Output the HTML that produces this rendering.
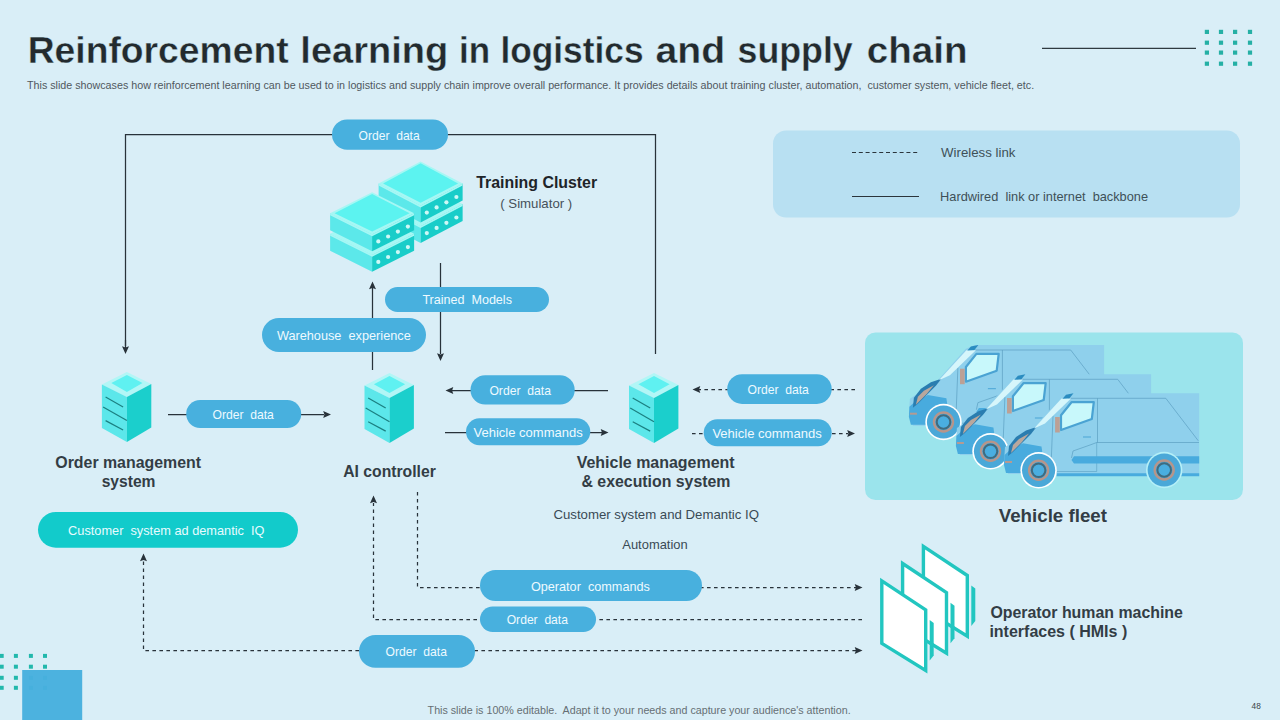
<!DOCTYPE html>
<html><head><meta charset="utf-8">
<style>
html,body{margin:0;padding:0;width:1280px;height:720px;overflow:hidden;background:#d9eef7;}
svg{display:block;font-family:"Liberation Sans",sans-serif;}
text{white-space:pre;}
</style></head>
<body>
<svg width="1280" height="720" viewBox="0 0 1280 720">
<defs>
  <marker id="ah" viewBox="0 0 8 7" refX="8" refY="3.5" markerWidth="8" markerHeight="7" markerUnits="userSpaceOnUse" orient="auto">
    <path d="M0,0 L8,3.5 L0,7 L1,3.5 z" fill="#2b353c"/>
  </marker>
  <g id="srv">
    <polygon points="25,0 49.4,12 25,25 0,12.5" fill="#b2f6f6"/>
    <polygon points="25,3.1 40.6,11.2 25,20 9.4,11.2" fill="#5ff1f1"/>
    <polygon points="0,12.5 25,25 25,70 0,56" fill="#5ce7ea"/>
    <polygon points="25,25 49.4,12 49.4,55.6 25,70" fill="#1bcfcc"/>
    <line x1="3.7" y1="25" x2="21.2" y2="35" stroke="#1b7f80" stroke-width="1.2"/>
    <line x1="1.2" y1="35" x2="25" y2="48.7" stroke="#1b7f80" stroke-width="1.2"/>
    <line x1="3.7" y1="48.7" x2="21.2" y2="58.1" stroke="#1b7f80" stroke-width="1.2"/>
  </g>
</defs>

<line x1="1042" y1="48.4" x2="1196" y2="48.4" stroke="#2f3a40" stroke-width="1.3"/>
<g fill="#25b0a5"><rect x="1204.8" y="29.8" width="4.2" height="4.2"/><rect x="1218.9" y="29.8" width="4.2" height="4.2"/><rect x="1233.0" y="29.8" width="4.2" height="4.2"/><rect x="1247.9" y="29.8" width="4.2" height="4.2"/><rect x="1204.8" y="40.6" width="4.2" height="4.2"/><rect x="1218.9" y="40.6" width="4.2" height="4.2"/><rect x="1233.0" y="40.6" width="4.2" height="4.2"/><rect x="1247.9" y="40.6" width="4.2" height="4.2"/><rect x="1204.8" y="50.5" width="4.2" height="4.2"/><rect x="1218.9" y="50.5" width="4.2" height="4.2"/><rect x="1233.0" y="50.5" width="4.2" height="4.2"/><rect x="1247.9" y="50.5" width="4.2" height="4.2"/><rect x="1204.8" y="61.6" width="4.2" height="4.2"/><rect x="1218.9" y="61.6" width="4.2" height="4.2"/><rect x="1233.0" y="61.6" width="4.2" height="4.2"/><rect x="1247.9" y="61.6" width="4.2" height="4.2"/></g>
<rect x="773" y="130.5" width="467" height="87" rx="13" fill="#b8e0f2"/>
<line x1="852" y1="152.5" x2="919" y2="152.5" stroke="#2b353c" stroke-width="1.1" stroke-dasharray="4,2.8"/>
<line x1="852" y1="196.5" x2="919" y2="196.5" stroke="#2b353c" stroke-width="1.1"/>
<polyline points="125.5,346.0 125.5,134.5 655.5,134.5 655.5,354.0" fill="none" stroke="#28323a" stroke-width="1.25"/>
<polyline points="440.5,263.0 440.5,354.0" fill="none" stroke="#28323a" stroke-width="1.25"/>
<polyline points="372.5,370.0 372.5,288.0" fill="none" stroke="#28323a" stroke-width="1.25"/>
<polyline points="168.0,414.5 324.0,414.5" fill="none" stroke="#28323a" stroke-width="1.25"/>
<polyline points="608.0,390.5 452.0,390.5" fill="none" stroke="#28323a" stroke-width="1.25"/>
<polyline points="445.0,432.5 602.0,432.5" fill="none" stroke="#28323a" stroke-width="1.25"/>
<polyline points="125.5,340.0 125.5,348.0" fill="none" stroke="#28323a" stroke-width="1.25"/>
<polyline points="855.0,389.5 699.0,389.5" fill="none" stroke="#28323a" stroke-width="1.25" stroke-dasharray="3.6,3.4"/>
<polyline points="692.0,433.5 848.0,433.5" fill="none" stroke="#28323a" stroke-width="1.25" stroke-dasharray="3.6,3.4"/>
<polyline points="417.5,492.0 417.5,587.5 856.0,587.5" fill="none" stroke="#28323a" stroke-width="1.25" stroke-dasharray="3.6,3.4"/>
<polyline points="862.0,619.5 373.5,619.5 373.5,503.0" fill="none" stroke="#28323a" stroke-width="1.25" stroke-dasharray="3.6,3.4"/>
<polyline points="856.0,650.5 143.5,650.5 143.5,561.0" fill="none" stroke="#28323a" stroke-width="1.25" stroke-dasharray="3.6,3.4"/>
<polygon points="125.5,354.0 122.0,346.2 125.5,347.4 129.0,346.2" fill="#28323a"/>
<polygon points="440.5,361.0 437.0,353.2 440.5,354.4 444.0,353.2" fill="#28323a"/>
<polygon points="372.5,281.5 376.0,289.3 372.5,288.1 369.0,289.3" fill="#28323a"/>
<polygon points="331.0,414.5 323.2,418.0 324.4,414.5 323.2,411.0" fill="#28323a"/>
<polygon points="445.5,390.5 453.3,387.0 452.1,390.5 453.3,394.0" fill="#28323a"/>
<polygon points="608.5,432.5 600.7,436.0 601.9,432.5 600.7,429.0" fill="#28323a"/>
<polygon points="692.5,389.5 700.3,386.0 699.1,389.5 700.3,393.0" fill="#28323a"/>
<polygon points="855.0,433.5 847.2,437.0 848.4,433.5 847.2,430.0" fill="#28323a"/>
<polygon points="862.5,587.5 854.7,591.0 855.9,587.5 854.7,584.0" fill="#28323a"/>
<polygon points="373.5,495.5 377.0,503.3 373.5,502.1 370.0,503.3" fill="#28323a"/>
<polygon points="862.5,650.5 854.7,654.0 855.9,650.5 854.7,647.0" fill="#28323a"/>
<polygon points="143.5,553.5 147.0,561.3 143.5,560.1 140.0,561.3" fill="#28323a"/>
<g fill="#48b0de">
  <rect x="332" y="119.4" width="116" height="30.3" rx="15.15"/>
  <rect x="385" y="287" width="164" height="25" rx="12.5"/>
  <rect x="262" y="318" width="164" height="34" rx="17"/>
  <rect x="186.2" y="400" width="115" height="28" rx="14"/>
  <rect x="470.5" y="375.2" width="104.2" height="29.4" rx="14.7"/>
  <rect x="466" y="418.2" width="124.3" height="27" rx="13.5"/>
  <rect x="727.2" y="374.2" width="104.5" height="29.7" rx="14.85"/>
  <rect x="703.7" y="419.2" width="128" height="27.1" rx="13.55"/>
  <rect x="480" y="570" width="222" height="31" rx="15.5"/>
  <rect x="480" y="606.6" width="116" height="25.4" rx="12.7"/>
  <rect x="359" y="635" width="116" height="32.8" rx="16.4"/>
</g>
<rect x="38" y="512" width="260" height="35.7" rx="17.85" fill="#12cbcb"/>
<g id="cluster"><polygon points="378.6,204.0 420.6,226.0 420.6,243.0 378.6,221.0" fill="#5ce8ea"/>
<polygon points="420.6,226.0 462.6,204.0 462.6,221.0 420.6,243.0" fill="#19cdc9"/>
<polygon points="420.6,182.0 462.6,204.0 420.6,226.0 378.6,204.0" fill="#a6f7f4"/>
<polygon points="378.6,204.0 420.6,226.0 462.6,204.0 462.6,206.0 420.6,228.0 378.6,206.0" fill="#a6f7f4"/>
<circle cx="426.8" cy="233.1" r="2.1" fill="#cdf8f6"/>
<circle cx="436.6" cy="227.9" r="2.1" fill="#cdf8f6"/>
<circle cx="446.4" cy="222.8" r="2.1" fill="#cdf8f6"/>
<circle cx="456.4" cy="217.5" r="2.1" fill="#cdf8f6"/>
<polygon points="378.6,183.5 420.6,205.5 420.6,222.5 378.6,200.5" fill="#5ce8ea"/>
<polygon points="420.6,205.5 462.6,183.5 462.6,200.5 420.6,222.5" fill="#19cdc9"/>
<polygon points="420.6,161.5 462.6,183.5 420.6,205.5 378.6,183.5" fill="#a6f7f4"/>
<polygon points="420.6,163.2 458.1,183.5 420.6,202.7 383.1,183.5" fill="#5cf3f0"/>
<polygon points="378.6,183.5 420.6,205.5 462.6,183.5 462.6,185.5 420.6,207.5 378.6,185.5" fill="#a6f7f4"/>
<circle cx="426.8" cy="212.6" r="2.1" fill="#cdf8f6"/>
<circle cx="436.6" cy="207.4" r="2.1" fill="#cdf8f6"/>
<circle cx="446.4" cy="202.3" r="2.1" fill="#cdf8f6"/>
<circle cx="456.4" cy="197.0" r="2.1" fill="#cdf8f6"/>
<polygon points="330.1,233.7 372.1,254.7 372.1,271.7 330.1,250.7" fill="#5ce8ea"/>
<polygon points="372.1,254.7 414.1,233.7 414.1,250.7 372.1,271.7" fill="#19cdc9"/>
<polygon points="372.1,212.7 414.1,233.7 372.1,254.7 330.1,233.7" fill="#a6f7f4"/>
<polygon points="330.1,233.7 372.1,254.7 414.1,233.7 414.1,235.7 372.1,256.7 330.1,235.7" fill="#a6f7f4"/>
<circle cx="378.3" cy="261.9" r="2.1" fill="#cdf8f6"/>
<circle cx="388.1" cy="257.0" r="2.1" fill="#cdf8f6"/>
<circle cx="397.9" cy="252.1" r="2.1" fill="#cdf8f6"/>
<circle cx="407.9" cy="247.1" r="2.1" fill="#cdf8f6"/>
<polygon points="330.1,213.2 372.1,234.2 372.1,251.2 330.1,230.2" fill="#5ce8ea"/>
<polygon points="372.1,234.2 414.1,213.2 414.1,230.2 372.1,251.2" fill="#19cdc9"/>
<polygon points="372.1,192.2 414.1,213.2 372.1,234.2 330.1,213.2" fill="#a6f7f4"/>
<polygon points="372.1,193.9 409.6,213.2 372.1,231.4 334.6,213.2" fill="#5cf3f0"/>
<polygon points="330.1,213.2 372.1,234.2 414.1,213.2 414.1,215.2 372.1,236.2 330.1,215.2" fill="#a6f7f4"/>
<circle cx="378.3" cy="241.4" r="2.1" fill="#cdf8f6"/>
<circle cx="388.1" cy="236.5" r="2.1" fill="#cdf8f6"/>
<circle cx="397.9" cy="231.6" r="2.1" fill="#cdf8f6"/>
<circle cx="407.9" cy="226.6" r="2.1" fill="#cdf8f6"/></g>
<use href="#srv" x="101.9" y="371.9"/><use href="#srv" x="364.5" y="373"/><use href="#srv" x="629" y="373"/>
<rect x="865" y="332.5" width="378" height="167.5" rx="10.5" fill="#9be4ec"/>
<g id="vans"><polygon points="965.9,348.7 974.9,345.0 1104.1,345.0 1104.1,427.7 912.9,425.7 908.9,413.7 909.9,398.7 937.9,380.2" fill="#8fd0ec"/>
<polyline points="972.9,350.0 1070.7,350.0 1103.2,392.5" fill="none" stroke="#5b9fc2" stroke-width="0.7"/>
<polyline points="1001.6,394.2 1103.9,394.2" fill="none" stroke="#5b9fc2" stroke-width="0.7"/>
<polyline points="957.9,367.7 955.7,423.4" fill="none" stroke="#5b9fc2" stroke-width="0.7"/>
<polyline points="1002.4,350.0 1002.4,394.2" fill="none" stroke="#5b9fc2" stroke-width="0.7"/>
<polyline points="976.4,409.7 977.9,402.7 994.9,396.7 1001.6,394.2" fill="none" stroke="#5b9fc2" stroke-width="0.7"/>
<polyline points="961.9,423.2 1001.6,423.2 1001.6,394.2" fill="none" stroke="#5b9fc2" stroke-width="0.6"/>
<polygon points="978.9,407.9 1104.1,407.9 1104.1,415.3 978.9,415.3 976.4,411.7" fill="#48abde"/>
<polygon points="961.6,425.0 1104.1,425.0 1104.1,427.9 961.6,427.9" fill="#48abde"/>
<polygon points="909.4,406.7 914.9,401.7 927.9,395.0 946.4,398.2 947.2,403.7 934.9,424.7 910.9,424.7 908.9,416.7" fill="#48abde"/>
<polygon points="909.9,412.7 916.9,412.7 916.9,414.7 909.9,414.7" fill="#b59a92"/>
<polygon points="912.9,407.7 913.9,397.7 920.9,388.7 930.9,382.2 941.4,378.7 935.9,385.7 926.9,394.7 917.9,403.7" fill="#2a7db0"/>
<polygon points="915.9,404.7 917.9,396.7 923.9,390.7 933.9,385.2 926.9,393.7 919.9,400.7" fill="#b9a79d"/>
<polygon points="938.9,380.2 949.9,375.2 975.9,350.2 966.4,350.2" fill="#d6f6fb"/>
<polygon points="967.4,350.5 970.9,346.5 978.4,345.0 974.4,350.0" fill="#2b8cc0"/>
<polygon points="965.9,367.0 976.4,353.9 998.7,353.9 996.7,370.7 965.9,381.7" fill="#c8f8fb" stroke="#4aa3d3" stroke-width="2.2" stroke-linejoin="round"/>
<polygon points="960.0,368.7 964.7,368.7 964.7,384.2 960.0,384.2" fill="#bca095"/>
<polyline points="987.9,388.7 995.9,388.7" stroke="#4aa5d5" stroke-width="1"/>
<circle cx="943.5" cy="422.0" r="18.2" fill="#ffffff"/>
<circle cx="943.5" cy="422.0" r="16.6" fill="#4aa8d8"/>
<circle cx="943.5" cy="422.0" r="9.5" fill="none" stroke="#b7958a" stroke-width="2.4"/>
<circle cx="943.5" cy="422.0" r="6.8" fill="none" stroke="#3f6b7f" stroke-width="2"/>
<circle cx="943.5" cy="422.0" r="5.3" fill="#4aaee0"/>
<circle cx="1069.1" cy="421.7" r="18.2" fill="#b5f0f8"/>
<circle cx="1069.1" cy="421.7" r="16.6" fill="#4aa8d8"/>
<circle cx="1069.1" cy="421.7" r="9.5" fill="none" stroke="#b7958a" stroke-width="2.4"/>
<circle cx="1069.1" cy="421.7" r="6.8" fill="none" stroke="#3f6b7f" stroke-width="2"/>
<circle cx="1069.1" cy="421.7" r="5.3" fill="#4aaee0"/>
<polygon points="1012.9,378.0 1021.9,374.3 1151.1,374.3 1151.1,457.0 959.9,455.0 955.9,443.0 956.9,428.0 984.9,409.5" fill="#8fd0ec"/>
<polyline points="1019.9,379.3 1117.7,379.3 1150.2,421.8" fill="none" stroke="#5b9fc2" stroke-width="0.7"/>
<polyline points="1048.6,423.5 1150.9,423.5" fill="none" stroke="#5b9fc2" stroke-width="0.7"/>
<polyline points="1004.9,397.0 1002.7,452.7" fill="none" stroke="#5b9fc2" stroke-width="0.7"/>
<polyline points="1049.4,379.3 1049.4,423.5" fill="none" stroke="#5b9fc2" stroke-width="0.7"/>
<polyline points="1023.4,439.0 1024.9,432.0 1041.9,426.0 1048.6,423.5" fill="none" stroke="#5b9fc2" stroke-width="0.7"/>
<polyline points="1008.9,452.5 1048.6,452.5 1048.6,423.5" fill="none" stroke="#5b9fc2" stroke-width="0.6"/>
<polygon points="1025.9,437.2 1151.1,437.2 1151.1,444.6 1025.9,444.6 1023.4,441.0" fill="#48abde"/>
<polygon points="1008.6,454.3 1151.1,454.3 1151.1,457.2 1008.6,457.2" fill="#48abde"/>
<polygon points="956.4,436.0 961.9,431.0 974.9,424.3 993.4,427.5 994.2,433.0 981.9,454.0 957.9,454.0 955.9,446.0" fill="#48abde"/>
<polygon points="956.9,442.0 963.9,442.0 963.9,444.0 956.9,444.0" fill="#b59a92"/>
<polygon points="959.9,437.0 960.9,427.0 967.9,418.0 977.9,411.5 988.4,408.0 982.9,415.0 973.9,424.0 964.9,433.0" fill="#2a7db0"/>
<polygon points="962.9,434.0 964.9,426.0 970.9,420.0 980.9,414.5 973.9,423.0 966.9,430.0" fill="#b9a79d"/>
<polygon points="985.9,409.5 996.9,404.5 1022.9,379.5 1013.4,379.5" fill="#d6f6fb"/>
<polygon points="1014.4,379.8 1017.9,375.8 1025.4,374.3 1021.4,379.3" fill="#2b8cc0"/>
<polygon points="1012.9,396.3 1023.4,383.2 1045.7,383.2 1043.7,400.0 1012.9,411.0" fill="#c8f8fb" stroke="#4aa3d3" stroke-width="2.2" stroke-linejoin="round"/>
<polygon points="1007.0,398.0 1011.7,398.0 1011.7,413.5 1007.0,413.5" fill="#bca095"/>
<polyline points="1034.9,418.0 1042.9,418.0" stroke="#4aa5d5" stroke-width="1"/>
<circle cx="990.5" cy="451.3" r="18.2" fill="#ffffff"/>
<circle cx="990.5" cy="451.3" r="16.6" fill="#4aa8d8"/>
<circle cx="990.5" cy="451.3" r="9.5" fill="none" stroke="#b7958a" stroke-width="2.4"/>
<circle cx="990.5" cy="451.3" r="6.8" fill="none" stroke="#3f6b7f" stroke-width="2"/>
<circle cx="990.5" cy="451.3" r="5.3" fill="#4aaee0"/>
<circle cx="1116.1" cy="451.0" r="18.2" fill="#b5f0f8"/>
<circle cx="1116.1" cy="451.0" r="16.6" fill="#4aa8d8"/>
<circle cx="1116.1" cy="451.0" r="9.5" fill="none" stroke="#b7958a" stroke-width="2.4"/>
<circle cx="1116.1" cy="451.0" r="6.8" fill="none" stroke="#3f6b7f" stroke-width="2"/>
<circle cx="1116.1" cy="451.0" r="5.3" fill="#4aaee0"/>
<polygon points="1061.0,397.0 1070.0,393.3 1199.2,393.3 1199.2,476.0 1008.0,474.0 1004.0,462.0 1005.0,447.0 1033.0,428.5" fill="#8fd0ec"/>
<polyline points="1068.0,398.3 1165.8,398.3 1198.3,440.8" fill="none" stroke="#5b9fc2" stroke-width="0.7"/>
<polyline points="1096.7,442.5 1199.0,442.5" fill="none" stroke="#5b9fc2" stroke-width="0.7"/>
<polyline points="1053.0,416.0 1050.8,471.7" fill="none" stroke="#5b9fc2" stroke-width="0.7"/>
<polyline points="1097.5,398.3 1097.5,442.5" fill="none" stroke="#5b9fc2" stroke-width="0.7"/>
<polyline points="1071.5,458.0 1073.0,451.0 1090.0,445.0 1096.7,442.5" fill="none" stroke="#5b9fc2" stroke-width="0.7"/>
<polyline points="1057.0,471.5 1096.7,471.5 1096.7,442.5" fill="none" stroke="#5b9fc2" stroke-width="0.6"/>
<polygon points="1074.0,456.2 1199.2,456.2 1199.2,463.6 1074.0,463.6 1071.5,460.0" fill="#48abde"/>
<polygon points="1056.7,473.3 1199.2,473.3 1199.2,476.2 1056.7,476.2" fill="#48abde"/>
<polygon points="1004.5,455.0 1010.0,450.0 1023.0,443.3 1041.5,446.5 1042.3,452.0 1030.0,473.0 1006.0,473.0 1004.0,465.0" fill="#48abde"/>
<polygon points="1005.0,461.0 1012.0,461.0 1012.0,463.0 1005.0,463.0" fill="#b59a92"/>
<polygon points="1008.0,456.0 1009.0,446.0 1016.0,437.0 1026.0,430.5 1036.5,427.0 1031.0,434.0 1022.0,443.0 1013.0,452.0" fill="#2a7db0"/>
<polygon points="1011.0,453.0 1013.0,445.0 1019.0,439.0 1029.0,433.5 1022.0,442.0 1015.0,449.0" fill="#b9a79d"/>
<polygon points="1034.0,428.5 1045.0,423.5 1071.0,398.5 1061.5,398.5" fill="#d6f6fb"/>
<polygon points="1062.5,398.8 1066.0,394.8 1073.5,393.3 1069.5,398.3" fill="#2b8cc0"/>
<polygon points="1061.0,415.3 1071.5,402.2 1093.8,402.2 1091.8,419.0 1061.0,430.0" fill="#c8f8fb" stroke="#4aa3d3" stroke-width="2.2" stroke-linejoin="round"/>
<polygon points="1055.1,417.0 1059.8,417.0 1059.8,432.5 1055.1,432.5" fill="#bca095"/>
<polyline points="1083.0,437.0 1091.0,437.0" stroke="#4aa5d5" stroke-width="1"/>
<circle cx="1038.6" cy="470.3" r="18.2" fill="#ffffff"/>
<circle cx="1038.6" cy="470.3" r="16.6" fill="#4aa8d8"/>
<circle cx="1038.6" cy="470.3" r="9.5" fill="none" stroke="#b7958a" stroke-width="2.4"/>
<circle cx="1038.6" cy="470.3" r="6.8" fill="none" stroke="#3f6b7f" stroke-width="2"/>
<circle cx="1038.6" cy="470.3" r="5.3" fill="#4aaee0"/>
<circle cx="1164.2" cy="470.0" r="18.2" fill="#b5f0f8"/>
<circle cx="1164.2" cy="470.0" r="16.6" fill="#4aa8d8"/>
<circle cx="1164.2" cy="470.0" r="9.5" fill="none" stroke="#b7958a" stroke-width="2.4"/>
<circle cx="1164.2" cy="470.0" r="6.8" fill="none" stroke="#3f6b7f" stroke-width="2"/>
<circle cx="1164.2" cy="470.0" r="5.3" fill="#4aaee0"/></g>
<g id="hmi"><polygon points="971.3,585.5 975.3,588.5 975.3,621.1 971.3,626.1" fill="#22c6c0"/>
<polygon points="923.4,546.4 967.3,575.5 967.3,636.1 923.4,609.0" fill="#ffffff" stroke="#22c6c0" stroke-width="3.4"/>
<polygon points="950.5,602.7 954.5,605.7 954.5,638.3 950.5,643.3" fill="#22c6c0"/>
<polygon points="902.6,563.5 946.5,592.7 946.5,653.3 902.6,626.2" fill="#ffffff" stroke="#22c6c0" stroke-width="3.4"/>
<polygon points="929.7,619.9 933.7,622.9 933.7,655.5 929.7,660.5" fill="#22c6c0"/>
<polygon points="881.8,580.8 925.7,609.9 925.7,670.5 881.8,643.4" fill="#ffffff" stroke="#22c6c0" stroke-width="3.4"/></g>
<g fill="#22b8ac"><rect x="-0.3" y="653.9" width="4" height="4"/><rect x="13.9" y="653.9" width="4" height="4"/><rect x="28.9" y="653.9" width="4" height="4"/><rect x="43.0" y="653.9" width="4" height="4"/><rect x="-0.3" y="664.7" width="4" height="4"/><rect x="13.9" y="664.7" width="4" height="4"/><rect x="28.9" y="664.7" width="4" height="4"/><rect x="43.0" y="664.7" width="4" height="4"/><rect x="-0.3" y="675.8" width="4" height="4"/><rect x="13.9" y="675.8" width="4" height="4"/><rect x="28.9" y="675.8" width="4" height="4"/><rect x="43.0" y="675.8" width="4" height="4"/><rect x="-0.3" y="685.8" width="4" height="4"/><rect x="13.9" y="685.8" width="4" height="4"/><rect x="28.9" y="685.8" width="4" height="4"/><rect x="43.0" y="685.8" width="4" height="4"/></g>
<rect x="22.2" y="670" width="60" height="50" fill="#47afde" fill-opacity="0.97"/>
<text x="27.73" y="62.5" font-size="36" font-weight="bold" fill="#232a2e" stroke="#d9eef7" stroke-width="0.35" textLength="260.86" lengthAdjust="spacingAndGlyphs">Reinforcement</text>
<text x="300.39" y="62.5" font-size="36" font-weight="bold" fill="#232a2e" stroke="#d9eef7" stroke-width="0.35" textLength="147.71" lengthAdjust="spacingAndGlyphs">learning</text>
<text x="459.06" y="62.5" font-size="36" font-weight="bold" fill="#232a2e" stroke="#d9eef7" stroke-width="0.35" textLength="31.08" lengthAdjust="spacingAndGlyphs">in</text>
<text x="500.44" y="62.5" font-size="36" font-weight="bold" fill="#232a2e" stroke="#d9eef7" stroke-width="0.35" textLength="143.06" lengthAdjust="spacingAndGlyphs">logistics</text>
<text x="655.61" y="62.5" font-size="36" font-weight="bold" fill="#232a2e" stroke="#d9eef7" stroke-width="0.35" textLength="69.55" lengthAdjust="spacingAndGlyphs">and</text>
<text x="737.51" y="62.5" font-size="36" font-weight="bold" fill="#232a2e" stroke="#d9eef7" stroke-width="0.35" textLength="115.26" lengthAdjust="spacingAndGlyphs">supply</text>
<text x="866.83" y="62.5" font-size="36" font-weight="bold" fill="#232a2e" stroke="#d9eef7" stroke-width="0.35" textLength="100.60" lengthAdjust="spacingAndGlyphs">chain</text>
<text x="27.00" y="89.3" font-size="10.5" fill="#50585e" textLength="1007.14" lengthAdjust="spacingAndGlyphs">This slide showcases how reinforcement learning can be used to in logistics and supply chain improve overall performance. It provides details about training cluster, automation,  customer system, vehicle fleet, etc.</text>
<text x="941.10" y="157.1" font-size="13" fill="#3e5058" textLength="74.29" lengthAdjust="spacingAndGlyphs">Wireless link</text>
<text x="940.12" y="201.1" font-size="13" fill="#3e5058" textLength="207.91" lengthAdjust="spacingAndGlyphs">Hardwired  link or internet  backbone</text>
<text x="476.25" y="188.1" font-size="16" font-weight="bold" fill="#1e2429" textLength="120.87" lengthAdjust="spacingAndGlyphs">Training Cluster</text>
<text x="500.25" y="207.5" font-size="13" fill="#46515a" textLength="71.98" lengthAdjust="spacingAndGlyphs">( Simulator )</text>
<text x="55.30" y="467.7" font-size="16" font-weight="bold" fill="#333d45" textLength="145.73" lengthAdjust="spacingAndGlyphs">Order management</text>
<text x="101.70" y="486.9" font-size="16" font-weight="bold" fill="#333d45" textLength="53.82" lengthAdjust="spacingAndGlyphs">system</text>
<text x="343.20" y="476.8" font-size="16" font-weight="bold" fill="#333d45" textLength="92.62" lengthAdjust="spacingAndGlyphs">AI controller</text>
<text x="576.70" y="467.7" font-size="16" font-weight="bold" fill="#333d45" textLength="157.93" lengthAdjust="spacingAndGlyphs">Vehicle management</text>
<text x="581.50" y="486.8" font-size="16" font-weight="bold" fill="#333d45" textLength="148.92" lengthAdjust="spacingAndGlyphs">&amp; execution system</text>
<text x="553.40" y="518.8" font-size="13.5" fill="#3a4a55" textLength="205.59" lengthAdjust="spacingAndGlyphs">Customer system and Demantic IQ</text>
<text x="622.30" y="548.7" font-size="13.5" fill="#3a4a55" textLength="65.39" lengthAdjust="spacingAndGlyphs">Automation</text>
<text x="998.75" y="521.5" font-size="18" font-weight="bold" fill="#333d45" textLength="108.24" lengthAdjust="spacingAndGlyphs">Vehicle fleet</text>
<text x="990.40" y="617.7" font-size="16" font-weight="bold" fill="#333d45" textLength="192.50" lengthAdjust="spacingAndGlyphs">Operator human machine</text>
<text x="989.40" y="636.5" font-size="16" font-weight="bold" fill="#333d45" textLength="137.83" lengthAdjust="spacingAndGlyphs">interfaces ( HMIs )</text>
<text x="427.60" y="714" font-size="10.5" fill="#666e74" textLength="423.03" lengthAdjust="spacingAndGlyphs">This slide is 100% editable.  Adapt it to your needs and capture your audience's attention.</text>
<text x="1251.60" y="708.75" font-size="9" fill="#3a4449" textLength="9.20" lengthAdjust="spacingAndGlyphs">48</text>
<text x="358.60" y="139.8" font-size="13" fill="#eefaff" textLength="61.08" lengthAdjust="spacingAndGlyphs">Order  data</text>
<text x="422.40" y="303.75" font-size="13" fill="#eefaff" textLength="89.52" lengthAdjust="spacingAndGlyphs">Trained  Models</text>
<text x="276.90" y="340" font-size="13" fill="#eefaff" textLength="133.82" lengthAdjust="spacingAndGlyphs">Warehouse  experience</text>
<text x="212.50" y="418.75" font-size="13" fill="#eefaff" textLength="61.28" lengthAdjust="spacingAndGlyphs">Order  data</text>
<text x="489.40" y="395" font-size="13" fill="#eefaff" textLength="61.58" lengthAdjust="spacingAndGlyphs">Order  data</text>
<text x="473.50" y="437.1" font-size="13" fill="#eefaff" textLength="109.20" lengthAdjust="spacingAndGlyphs">Vehicle commands</text>
<text x="747.50" y="393.5" font-size="13" fill="#eefaff" textLength="61.38" lengthAdjust="spacingAndGlyphs">Order  data</text>
<text x="712.40" y="437.7" font-size="13" fill="#eefaff" textLength="109.30" lengthAdjust="spacingAndGlyphs">Vehicle commands</text>
<text x="530.90" y="590.9" font-size="13" fill="#eefaff" textLength="119.01" lengthAdjust="spacingAndGlyphs">Operator  commands</text>
<text x="506.70" y="623.5" font-size="13" fill="#eefaff" textLength="61.28" lengthAdjust="spacingAndGlyphs">Order  data</text>
<text x="385.60" y="656" font-size="13" fill="#eefaff" textLength="61.28" lengthAdjust="spacingAndGlyphs">Order  data</text>
<text x="68.10" y="534.7" font-size="13.5" fill="#e8fbff" textLength="196.37" lengthAdjust="spacingAndGlyphs">Customer  system ad demantic  IQ</text>
</svg>
</body></html>
